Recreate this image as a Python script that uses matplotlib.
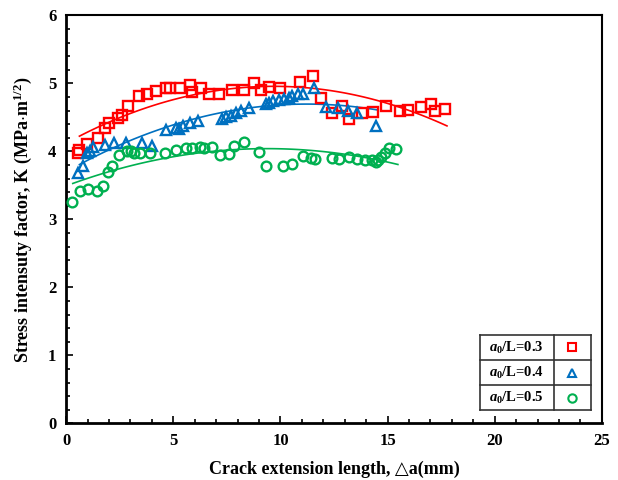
import numpy as np
import matplotlib
matplotlib.use('Agg')
import matplotlib.pyplot as plt
from matplotlib.ticker import MultipleLocator

# a0/L = 0.3
x1 = [0.57, 0.6, 0.99, 1.5, 1.81, 2.0, 2.43, 2.62, 2.87, 3.41, 3.78, 4.21, 4.65, 4.85, 5.3,
      5.76, 5.89, 6.27, 6.65, 7.12, 7.74, 8.29, 8.75, 9.09, 9.48, 9.98, 10.9, 11.54, 11.88,
      12.39, 12.85, 13.2, 13.82, 14.33, 14.93, 15.6, 15.95, 16.57, 17.02, 17.22, 17.69]
y1 = [3.97, 4.02, 4.11, 4.2, 4.35, 4.41, 4.49, 4.54, 4.66, 4.81, 4.84, 4.89, 4.93, 4.93, 4.93,
      4.98, 4.87, 4.93, 4.84, 4.85, 4.9, 4.9, 5.01, 4.9, 4.95, 4.93, 5.02, 5.11, 4.79,
      4.57, 4.67, 4.48, 4.56, 4.58, 4.66, 4.59, 4.61, 4.65, 4.70, 4.6, 4.63]

# a0/L = 0.4
x2 = [0.57, 0.78, 0.99, 1.12, 1.27, 1.81, 2.25, 2.79, 3.56, 4.03, 4.65, 5.14, 5.27, 5.45,
      5.76, 6.15, 7.28, 7.47, 7.7, 7.93, 8.16, 8.55, 9.33, 9.48, 9.63, 9.94, 10.18, 10.41,
      10.56, 10.8, 11.03, 11.57, 12.11, 12.7, 13.17, 13.58, 14.44]
y2 = [3.68, 3.78, 3.98, 4.01, 4.07, 4.1, 4.12, 4.13, 4.12, 4.08, 4.32, 4.34, 4.33, 4.38,
      4.42, 4.44, 4.47, 4.5, 4.52, 4.57, 4.59, 4.64, 4.69, 4.71, 4.74, 4.76, 4.77, 4.79,
      4.81, 4.84, 4.85, 4.93, 4.65, 4.64, 4.6, 4.57, 4.38]

# a0/L = 0.5
x3 = [0.26, 0.65, 1.04, 1.46, 1.74, 1.94, 2.12, 2.48, 2.82, 3.01, 3.16, 3.44, 3.93, 4.6,
      5.11, 5.58, 5.89, 6.23, 6.43, 6.82, 7.16, 7.62, 7.81, 8.32, 9.01, 9.33, 10.1, 10.56,
      11.03, 11.42, 11.62, 12.39, 12.73, 13.2, 13.58, 13.94, 14.28, 14.44, 14.56, 14.71,
      14.87, 15.06, 15.4]
y3 = [3.26, 3.42, 3.44, 3.41, 3.49, 3.7, 3.79, 3.95, 4.0, 4.01, 3.97, 3.98, 3.98, 3.98,
      4.02, 4.05, 4.05, 4.07, 4.05, 4.07, 3.94, 3.96, 4.08, 4.14, 3.99, 3.78, 3.78, 3.81,
      3.93, 3.9, 3.89, 3.9, 3.89, 3.92, 3.89, 3.88, 3.87, 3.84, 3.87, 3.92,
      3.98, 4.05, 4.04]

labels = ['0.3', '0.4', '0.5']
colors = ['#FF0000', '#0070C0', '#00B050']
markers = ['s', '^', 'o']

plt.rcParams['font.family'] = ['Liberation Serif', 'DejaVu Serif']
plt.rcParams['mathtext.fontset'] = 'custom'
plt.rcParams['mathtext.rm'] = 'Liberation Serif:bold'
plt.rcParams['mathtext.it'] = 'Liberation Serif:italic:bold'
plt.rcParams['mathtext.bf'] = 'Liberation Serif:bold'

fig = plt.figure(figsize=(6.18, 4.8), dpi=100)
ax = fig.add_axes([0.107, 0.118, 0.867, 0.85])

series = [(x1, y1), (x2, y2), (x3, y3)]
msizes = [7, 6.5, 7]
for (xs, ys), c, m, ms in zip(series, colors, markers, msizes):
    xs = np.array(xs); ys = np.array(ys)
    ax.plot(xs, ys, ls='none', marker=m, ms=ms, mfc='none', mec=c, mew=1.7, zorder=3)
    # polynomial trendline, as in the spreadsheet
    p = np.polyfit(xs, ys, 2)
    xf = np.linspace(xs.min() + 0.05, xs.max() + 0.08, 100)
    ax.plot(xf, np.polyval(p, xf), color=c, lw=1.2, zorder=2)

ax.set_xlim(0, 25)
ax.set_ylim(0, 6)
ax.xaxis.set_major_locator(MultipleLocator(5))
ax.xaxis.set_minor_locator(MultipleLocator(1))
ax.yaxis.set_major_locator(MultipleLocator(1))
ax.yaxis.set_minor_locator(MultipleLocator(0.2))
ax.tick_params(which='both', direction='in', width=1.2)
ax.tick_params(which='major', length=5, labelsize=12, pad=7)
ax.tick_params(which='minor', length=3)
for lab in ax.get_xticklabels() + ax.get_yticklabels():
    lab.set_fontweight('bold')
for s in ax.spines.values():
    s.set_linewidth(1.5)
ax.spines['left'].set_linewidth(2)
ax.spines['bottom'].set_linewidth(2)

ax.set_xlabel('Crack extension length, \u25B3a(mm)', fontsize=13, fontweight='bold', labelpad=8)
ax.set_ylabel('Stress intensuty factor, K (MPa$\\cdot$m$^{1/2}$)', fontsize=13,
              fontweight='bold', labelpad=10)

# legend drawn as a small table
tx0, tx1, tx2 = 0.772, 0.910, 0.979
ty = [0.033, 0.093, 0.155, 0.217]
for yy in ty:
    ax.plot([tx0, tx2], [yy, yy], color='#333333', lw=1.2, transform=ax.transAxes, clip_on=False)
for xx in (tx0, tx1, tx2):
    ax.plot([xx, xx], [ty[0], ty[-1]], color='#333333', lw=1.2, transform=ax.transAxes, clip_on=False)
for i, (lab, c, m) in enumerate(zip(labels, colors, markers)):
    yc = (ty[3 - i] + ty[2 - i]) / 2
    ax.text((tx0 + tx1) / 2, yc, '$\\mathit{a}_0$/L=' + lab, transform=ax.transAxes,
            ha='center', va='center', fontsize=10.5, fontweight='bold')
    ax.plot([(tx1 + tx2) / 2], [yc], ls='none', marker=m, ms=6, mfc='none', mec=c, mew=1.5,
            transform=ax.transAxes, clip_on=False)

fig.savefig('out.png', dpi=100)
